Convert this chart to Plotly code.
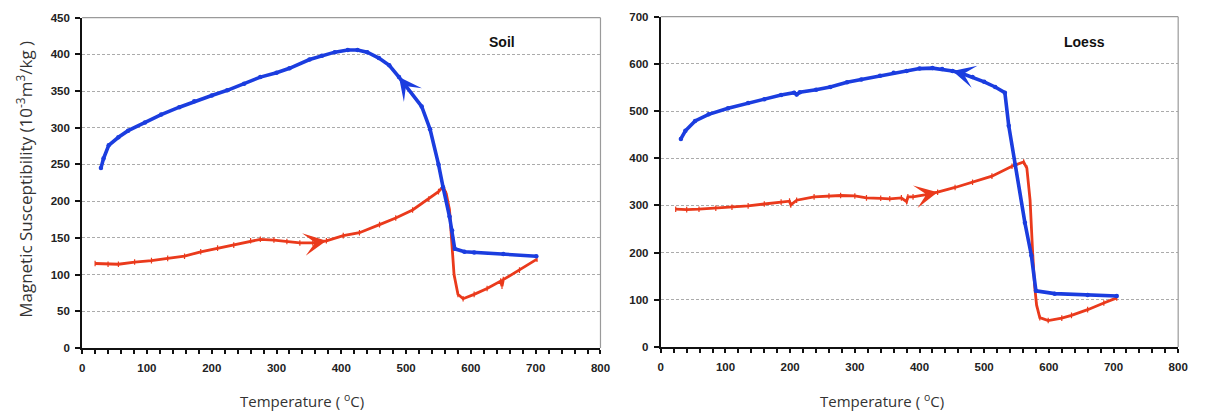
import plotly.graph_objects as go

# ---- Soil sample: susceptibility vs temperature ----
soil_heat_t = [20, 40, 56, 81, 107, 132, 158, 183, 209, 234, 260, 275, 296, 316, 336, 356,
               377, 403, 428, 459, 484, 510, 535, 550, 557, 562, 567, 570, 574, 580, 588,
               605, 625, 646, 648, 650, 675, 702]
soil_heat_k = [115, 114, 114, 117, 119, 122, 125, 131, 136, 140, 146, 148, 147, 145, 143, 143,
               146, 153, 157, 168, 177, 188, 203, 213, 220, 210, 188, 153, 100, 73, 67,
               73, 81, 91, 84, 93, 106, 121]

soil_cool_t = [701, 650, 605, 590, 575, 571, 567, 557, 550, 537, 524, 489, 474, 458, 440, 425,
               410, 390, 370, 351, 320, 300, 275, 250, 224, 200, 173, 150, 122, 97, 71, 56,
               41, 33, 29]
soil_cool_k = [125, 128, 130, 131, 135, 160, 179, 219, 250, 298, 329, 369, 385, 395, 403, 406,
               406, 403, 398, 393, 381, 375, 369, 360, 351, 344, 336, 328, 318, 307, 296, 287,
               276, 258, 245]

# ---- Loess sample ----
loess_heat_t = [23, 40, 59, 85, 110, 135, 160, 186, 199, 201, 210, 237, 260, 278, 300, 318,
                340, 354, 372, 380, 382, 390, 410, 428, 455, 482, 512, 543, 561, 566, 571,
                575, 578, 581, 586, 599, 620, 635, 660, 685, 705]
loess_heat_k = [292, 291, 292, 294, 296, 299, 303, 307, 309, 301, 311, 318, 320, 321, 320, 316,
                315, 314, 316, 308, 318, 318, 323, 328, 338, 349, 362, 383, 392, 379, 311,
                199, 130, 89, 62, 56, 61, 67, 79, 93, 104]

loess_cool_t = [705, 660, 609, 580, 573, 563, 548, 538, 532, 517, 500, 482, 465, 451, 435, 420,
                400, 380, 360, 339, 310, 288, 262, 240, 215, 210, 206, 186, 160, 135, 104, 74,
                53, 38, 31]
loess_cool_k = [108, 110, 113, 119, 194, 263, 386, 469, 539, 551, 562, 572, 580, 585, 589, 591,
                590, 585, 581, 575, 567, 561, 551, 545, 540, 535, 539, 534, 525, 517, 506, 493,
                479, 458, 441]

# index of the point where the direction arrow sits on each run
soil_heat_arrow = 16
soil_cool_arrow = 11
loess_heat_arrow = 23
loess_cool_arrow = 13

x_ticks = [0, 100, 200, 300, 400, 500, 600, 700, 800]
soil_y_ticks = [0, 50, 100, 150, 200, 250, 300, 350, 400, 450]
loess_y_ticks = [0, 100, 200, 300, 400, 500, 600, 700]

RED = "#ea3a1c"
BLUE = "#1b3ddf"

fig = go.Figure()


def add_runs(heat_t, heat_k, cool_t, cool_k, xa, ya):
    fig.add_trace(go.Scatter(
        x=heat_t, y=heat_k, xaxis=xa, yaxis=ya, mode="lines+markers",
        line=dict(color=RED, width=2.8),
        marker=dict(symbol="line-ns", size=4, line=dict(color=RED, width=1.2)),
        showlegend=False, hoverinfo="x+y"))
    fig.add_trace(go.Scatter(
        x=cool_t, y=cool_k, xaxis=xa, yaxis=ya, mode="lines+markers",
        line=dict(color=BLUE, width=3.6),
        marker=dict(symbol="circle", size=4.5, color=BLUE),
        showlegend=False, hoverinfo="x+y"))


add_runs(soil_heat_t, soil_heat_k, soil_cool_t, soil_cool_k, "x", "y")
add_runs(loess_heat_t, loess_heat_k, loess_cool_t, loess_cool_k, "x2", "y2")


def arrow(ts, ks, i, color, xr, yr):
    return dict(x=ts[i], y=ks[i], ax=ts[i - 1], ay=ks[i - 1],
                xref=xr, yref=yr, axref=xr, ayref=yr, text="",
                showarrow=True, arrowhead=3, arrowsize=1.9, arrowwidth=2,
                arrowcolor=color, standoff=0, startstandoff=0)


annotations = [
    arrow(soil_heat_t, soil_heat_k, soil_heat_arrow, RED, "x", "y"),
    arrow(soil_cool_t, soil_cool_k, soil_cool_arrow, BLUE, "x", "y"),
    arrow(loess_heat_t, loess_heat_k, loess_heat_arrow, RED, "x2", "y2"),
    arrow(loess_cool_t, loess_cool_k, loess_cool_arrow, BLUE, "x2", "y2"),
]

title_font = dict(family="Liberation Sans, Arial, sans-serif", size=14, color="#111")
x_label_font = dict(family="Open Sans, sans-serif", size=15, color="#333")
y_label_font = dict(family="Open Sans, sans-serif", size=17, color="#333")


def text_note(text, x, y, font, angle=0):
    return dict(text=text, x=x, y=y, xref="paper", yref="paper", showarrow=False,
                xanchor="center", yanchor="middle", textangle=angle, font=font)


annotations += [
    text_note("<b>Soil</b>", 0.419, 0.912, title_font),
    text_note("<b>Loess</b>", 0.907, 0.912, title_font),
    text_note("Magnetic Susceptibility (10<sup>-3</sup>m<sup>3</sup>/kg )", 0.0185, 0.573,
              y_label_font, -90),
    text_note("Temperature ( <sup>o</sup>C)", 0.2506, 0.031, x_label_font),
    text_note("Temperature ( <sup>o</sup>C)", 0.7378, 0.031, x_label_font),
]

tick_font = dict(family="Liberation Sans, Arial, sans-serif", size=11.5, color="#222")


def bold(vals):
    return [f"<b>{v}</b>" for v in vals]


def x_axis(domain, anchor):
    return dict(domain=domain, anchor=anchor, range=[0, 800], tickvals=x_ticks,
                ticktext=bold(x_ticks),
                ticks="outside", ticklen=4, tickwidth=1.5, tickcolor="#111",
                minor=dict(dtick=20, ticks="outside", ticklen=4, tickwidth=1.5, tickcolor="#111"),
                showline=True, linecolor="#111", linewidth=2, showgrid=False, zeroline=False,
                tickfont=tick_font, ticklabelstandoff=4, fixedrange=True)


def x_inner(domain, anchor, over):
    return dict(domain=domain, anchor=anchor, overlaying=over, range=[0, 800], tickvals=x_ticks,
                ticks="inside", ticklen=4, tickwidth=1.5, tickcolor="#111",
                minor=dict(dtick=20, ticks="inside", ticklen=4, tickwidth=1.5, tickcolor="#111"),
                showline=False, showgrid=False, zeroline=False, showticklabels=False)


def y_axis(domain, anchor, top, ticks):
    return dict(domain=domain, anchor=anchor, range=[0, top], tickvals=ticks,
                ticktext=bold(ticks),
                ticks="outside", ticklen=5, tickwidth=1.5, tickcolor="#111",
                showline=True, linecolor="#111", linewidth=2, zeroline=False,
                showgrid=True, gridcolor="#ababab", gridwidth=1, griddash="3px,2px",
                tickfont=tick_font, ticklabelstandoff=3, fixedrange=True)


left_dom = [80 / 1205, 604 / 1205]
right_dom = [665 / 1205, 1188 / 1205]
left_ydom = [1 - 352 / 419, 1 - 12 / 419]
right_ydom = [1 - 351 / 419, 1 - 11 / 419]

border = dict(color="#9a9a9a", width=1.2)
shapes = []
for xr, yr in (("x", "y"), ("x2", "y2")):
    shapes.append(dict(type="line", xref=f"{xr} domain", yref=f"{yr} domain",
                       x0=0, x1=1, y0=1, y1=1, line=border))
    shapes.append(dict(type="line", xref=f"{xr} domain", yref=f"{yr} domain",
                       x0=1, x1=1, y0=0, y1=1, line=border))

fig.update_layout(
    width=1205, height=419, autosize=False,
    margin=dict(l=0, r=0, t=0, b=0),
    paper_bgcolor="white", plot_bgcolor="white",
    xaxis=x_axis(left_dom, "y"),
    yaxis=y_axis(left_ydom, "x", 450, soil_y_ticks),
    xaxis2=x_axis(right_dom, "y2"),
    yaxis2=y_axis(right_ydom, "x2", 700, loess_y_ticks),
    xaxis3=x_inner(left_dom, "y", "x"),
    xaxis4=x_inner(right_dom, "y2", "x2"),
    annotations=annotations,
    shapes=shapes,
)

fig.write_html("out.html")
